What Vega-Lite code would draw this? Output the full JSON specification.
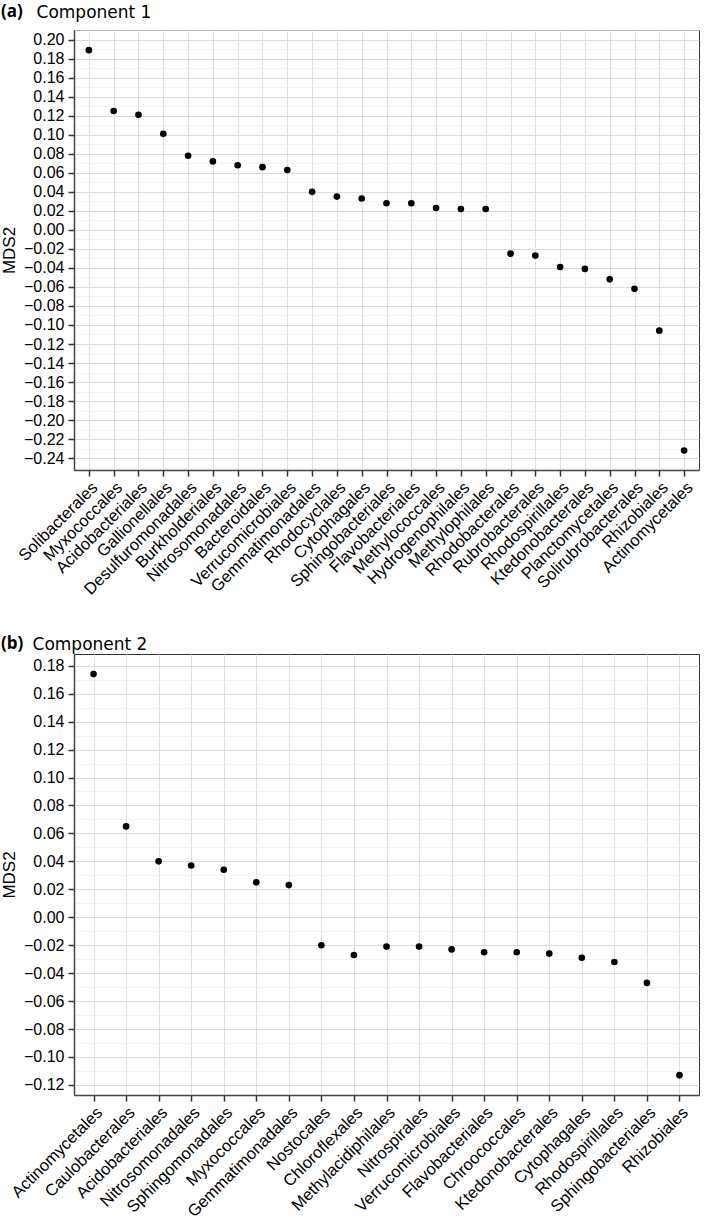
{
  "$schema": "https://vega.github.io/schema/vega-lite/v6.json",
  "padding": {"left": 0, "top": 2, "right": 0, "bottom": 0},
  "background": "white",
  "config": {
    "font": "Liberation Sans",
    "view": {"stroke": "#333333", "strokeWidth": 1},
    "concat": {"spacing": 35},
    "axis": {
      "labelFont": "Liberation Sans",
      "labelFontSize": 16,
      "labelColor": "#000000",
      "titleFont": "Liberation Sans",
      "titleFontSize": 17,
      "titleFontWeight": "normal",
      "titleColor": "#000000",
      "domainColor": "#444444",
      "domainWidth": 1.5,
      "tickColor": "#333333",
      "tickWidth": 1.5,
      "tickSize": 6,
      "labelPadding": 4
    }
  },
  "datasets": {
    "comp1": [
      {"order": "Solibacterales", "MDS2": 0.189},
      {"order": "Myxococcales", "MDS2": 0.125},
      {"order": "Acidobacteriales", "MDS2": 0.121},
      {"order": "Gallionellales", "MDS2": 0.101},
      {"order": "Desulfuromonadales", "MDS2": 0.078},
      {"order": "Burkholderiales", "MDS2": 0.072},
      {"order": "Nitrosomonadales", "MDS2": 0.068},
      {"order": "Bacteroidales", "MDS2": 0.066},
      {"order": "Verrucomicrobiales", "MDS2": 0.063},
      {"order": "Gemmatimonadales", "MDS2": 0.040},
      {"order": "Rhodocyclales", "MDS2": 0.035},
      {"order": "Cytophagales", "MDS2": 0.033},
      {"order": "Sphingobacteriales", "MDS2": 0.028},
      {"order": "Flavobacteriales", "MDS2": 0.028},
      {"order": "Methylococcales", "MDS2": 0.023},
      {"order": "Hydrogenophilales", "MDS2": 0.022},
      {"order": "Methylophilales", "MDS2": 0.022},
      {"order": "Rhodobacterales", "MDS2": -0.025},
      {"order": "Rubrobacterales", "MDS2": -0.027},
      {"order": "Rhodospirillales", "MDS2": -0.039},
      {"order": "Ktedonobacterales", "MDS2": -0.041},
      {"order": "Planctomycetales", "MDS2": -0.052},
      {"order": "Solirubrobacterales", "MDS2": -0.062},
      {"order": "Rhizobiales", "MDS2": -0.106},
      {"order": "Actinomycetales", "MDS2": -0.232}
    ],
    "comp2": [
      {"order": "Actinomycetales", "MDS2": 0.174},
      {"order": "Caulobacterales", "MDS2": 0.065},
      {"order": "Acidobacteriales", "MDS2": 0.040},
      {"order": "Nitrosomonadales", "MDS2": 0.037},
      {"order": "Sphingomonadales", "MDS2": 0.034},
      {"order": "Myxococcales", "MDS2": 0.025},
      {"order": "Gemmatimonadales", "MDS2": 0.023},
      {"order": "Nostocales", "MDS2": -0.020},
      {"order": "Chloroflexales", "MDS2": -0.027},
      {"order": "Methylacidiphilales", "MDS2": -0.021},
      {"order": "Nitrospirales", "MDS2": -0.021},
      {"order": "Verrucomicrobiales", "MDS2": -0.023},
      {"order": "Flavobacteriales", "MDS2": -0.025},
      {"order": "Chroococcales", "MDS2": -0.025},
      {"order": "Ktedonobacterales", "MDS2": -0.026},
      {"order": "Cytophagales", "MDS2": -0.029},
      {"order": "Rhodospirillales", "MDS2": -0.032},
      {"order": "Sphingobacteriales", "MDS2": -0.047},
      {"order": "Rhizobiales", "MDS2": -0.113}
    ]
  },
  "vconcat": [
    {
      "title": {"text": "(a)", "anchor": "start", "frame": "bounds", "font": "Open Sans", "fontSize": 17, "fontWeight": "bold", "color": "#000000", "offset": -17, "dx": 1},
      "vconcat": [
        {
          "width": 625,
          "height": 440,
          "title": {"text": "Component 1", "anchor": "start", "frame": "bounds", "font": "DejaVu Sans", "fontSize": 17, "fontWeight": "normal", "color": "#000000", "offset": 0, "dx": 36},
          "data": {"name": "comp1"},
          "mark": {"type": "circle", "size": 44, "color": "#000000", "opacity": 1},
          "encoding": {
            "x": {
              "field": "order", "type": "nominal", "sort": null,
              "scale": {"type": "point", "padding": 0.6},
              "axis": {"title": null, "labelAngle": -45, "labelAlign": "right", "labelBaseline": "top", "labelFontSize": 16.5, "grid": true, "gridColor": "#dedede", "gridWidth": 1, "tickSize": 6, "labelPadding": 3}
            },
            "y": {
              "field": "MDS2", "type": "quantitative",
              "scale": {"domain": [-0.2525, 0.2102], "nice": false, "zero": false},
              "axis": {
                "title": "MDS2",
                "titlePadding": 5,
                "values": [-0.25, -0.24, -0.23, -0.22, -0.21, -0.2, -0.19, -0.18, -0.17, -0.16, -0.15, -0.14, -0.13, -0.12, -0.11, -0.1, -0.09, -0.08, -0.07, -0.06, -0.05, -0.04, -0.03, -0.02, -0.01, 0, 0.01, 0.02, 0.03, 0.04, 0.05, 0.06, 0.07, 0.08, 0.09, 0.1, 0.11, 0.12, 0.13, 0.14, 0.15, 0.16, 0.17, 0.18, 0.19, 0.2, 0.21],
                "labelExpr": "abs(round(datum.value*100)) % 2 == 0 ? format(datum.value, '.2f') : ''",
                "grid": true,
                "gridColor": {"condition": {"test": "abs(round(datum.value*100)) % 2 == 1", "value": "#eeeeee"}, "value": "#dcdcdc"},
                "gridWidth": {"condition": {"test": "abs(round(datum.value*100)) % 2 == 1", "value": 0.7}, "value": 1},
                "tickOpacity": {"condition": {"test": "abs(round(datum.value*100)) % 2 == 1", "value": 0}, "value": 1},
                "labelOverlap": false
              }
            }
          }
        }
      ]
    },
    {
      "title": {"text": "(b)", "anchor": "start", "frame": "bounds", "font": "Open Sans", "fontSize": 17, "fontWeight": "bold", "color": "#000000", "offset": -17, "dx": 1},
      "vconcat": [
        {
          "width": 625,
          "height": 441,
          "title": {"text": "Component 2", "anchor": "start", "frame": "bounds", "font": "DejaVu Sans", "fontSize": 17, "fontWeight": "normal", "color": "#000000", "offset": 0, "dx": 32},
          "data": {"name": "comp2"},
          "mark": {"type": "circle", "size": 44, "color": "#000000", "opacity": 1},
          "encoding": {
            "x": {
              "field": "order", "type": "nominal", "sort": null,
              "scale": {"type": "point", "padding": 0.6},
              "axis": {"title": null, "labelAngle": -45, "labelAlign": "right", "labelBaseline": "top", "labelFontSize": 16.5, "grid": true, "gridColor": "#dedede", "gridWidth": 1, "tickSize": 6, "labelPadding": 3}
            },
            "y": {
              "field": "MDS2", "type": "quantitative",
              "scale": {"domain": [-0.1272, 0.1884], "nice": false, "zero": false},
              "axis": {
                "title": "MDS2",
                "titlePadding": 5,
                "values": [-0.12, -0.11, -0.1, -0.09, -0.08, -0.07, -0.06, -0.05, -0.04, -0.03, -0.02, -0.01, 0, 0.01, 0.02, 0.03, 0.04, 0.05, 0.06, 0.07, 0.08, 0.09, 0.1, 0.11, 0.12, 0.13, 0.14, 0.15, 0.16, 0.17, 0.18],
                "labelExpr": "abs(round(datum.value*100)) % 2 == 0 ? format(datum.value, '.2f') : ''",
                "grid": true,
                "gridColor": {"condition": {"test": "abs(round(datum.value*100)) % 2 == 1", "value": "#eeeeee"}, "value": "#dcdcdc"},
                "gridWidth": {"condition": {"test": "abs(round(datum.value*100)) % 2 == 1", "value": 0.7}, "value": 1},
                "tickOpacity": {"condition": {"test": "abs(round(datum.value*100)) % 2 == 1", "value": 0}, "value": 1},
                "labelOverlap": false
              }
            }
          }
        }
      ]
    }
  ]
}
